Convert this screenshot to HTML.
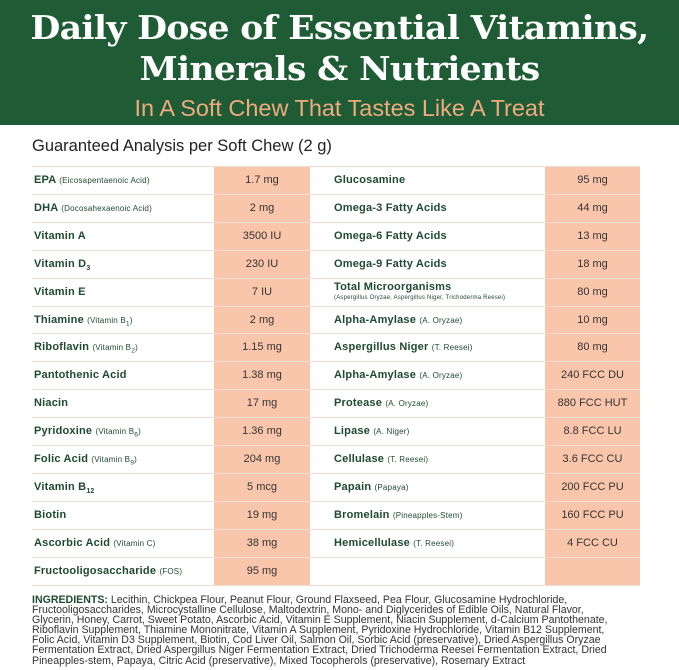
<!DOCTYPE html>
<html><head><meta charset="utf-8"><style>
*{margin:0;padding:0;box-sizing:border-box}
body{width:679px;height:670px;background:#fff;position:relative;overflow:hidden;font-family:"Liberation Sans",sans-serif}
.hdr{position:absolute;left:0;top:0;width:679px;height:125px;background:#1f5c35}
.t{position:absolute;left:0;width:679px;text-align:center;color:#fff;font-family:"DejaVu Serif","Liberation Serif",serif;font-weight:bold;font-size:33px;letter-spacing:-0.6px;white-space:nowrap;transform:scaleX(1.045)}
.sub{position:absolute;left:0;width:679px;text-align:center;top:95px;color:#eeab7e;font-size:23px;transform:scaleX(1.02);white-space:nowrap}
.ga{position:absolute;left:32px;top:137px;font-size:16.5px;color:#222}
.col{position:absolute;top:166px;height:420px;background:#f9c6ab}
.line{position:absolute;left:32px;width:608px;height:1px;background:#eeddd3}
.l{position:absolute;font-size:11px;font-weight:bold;color:#1f4a30;white-space:nowrap;letter-spacing:0.2px}
.l small{font-size:8px;font-weight:normal}
.v{position:absolute;font-size:11px;color:#333;text-align:center;white-space:nowrap}
.ing{position:absolute;left:32px;top:595px;width:650px;font-size:10.6px;line-height:10.1px;color:#333;transform-origin:left top;white-space:nowrap}
.ing b{color:#1f4a30}
</style></head><body>
<div class="hdr"></div>
<div class="t" style="top:8px">Daily Dose of Essential Vitamins,</div>
<div class="t" style="top:49px">Minerals &amp; Nutrients</div>
<div class="sub">In A Soft Chew That Tastes Like A Treat</div>
<div class="ga">Guaranteed Analysis per Soft Chew (2 g)</div>
<div class="col" style="left:214px;width:96px"></div>
<div class="col" style="left:545px;width:95px"></div>
<div id="rows"></div>
<div class="ing"><b>INGREDIENTS:</b> Lecithin, Chickpea Flour, Peanut Flour, Ground Flaxseed, Pea Flour, Glucosamine Hydrochloride,<br>Fructooligosaccharides, Microcystalline Cellulose, Maltodextrin, Mono- and Diglycerides of Edible Oils, Natural Flavor,<br>Glycerin, Honey, Carrot, Sweet Potato, Ascorbic Acid, Vitamin E Supplement, Niacin Supplement, d-Calcium Pantothenate,<br>Riboflavin Supplement, Thiamine Mononitrate, Vitamin A Supplement, Pyridoxine Hydrochloride, Vitamin B12 Supplement,<br>Folic Acid, Vitamin D3 Supplement, Biotin, Cod Liver Oil, Salmon Oil, Sorbic Acid (preservative), Dried Aspergillus Oryzae<br>Fermentation Extract, Dried Aspergillus Niger Fermentation Extract, Dried Trichoderma Reesei Fermentation Extract, Dried<br>Pineapples-stem, Papaya, Citric Acid (preservative), Mixed Tocopherols (preservative), Rosemary Extract</div>
<script>
var L=[["EPA <small>(Eicosapentaenoic Acid)</small>","1.7 mg"],["DHA <small>(Docosahexaenoic Acid)</small>","2 mg"],["Vitamin A","3500 IU"],["Vitamin D<sub style='font-size:7px'>3</sub>","230 IU"],["Vitamin E","7 IU"],["Thiamine <small>(Vitamin B<sub>1</sub>)</small>","2 mg"],["Riboflavin <small>(Vitamin B<sub>2</sub>)</small>","1.15 mg"],["Pantothenic Acid","1.38 mg"],["Niacin","17 mg"],["Pyridoxine <small>(Vitamin B<sub>6</sub>)</small>","1.36 mg"],["Folic Acid <small>(Vitamin B<sub>9</sub>)</small>","204 mg"],["Vitamin B<sub style='font-size:7px'>12</sub>","5 mcg"],["Biotin","19 mg"],["Ascorbic Acid <small>(Vitamin C)</small>","38 mg"],["Fructooligosaccharide <small>(FOS)</small>","95 mg"]];
var R=[["Glucosamine","95 mg"],["Omega-3 Fatty Acids","44 mg"],["Omega-6 Fatty Acids","13 mg"],["Omega-9 Fatty Acids","18 mg"],["TMO","80 mg"],["Alpha-Amylase <small>(A. Oryzae)</small>","10 mg"],["Aspergillus Niger <small>(T. Reesei)</small>","80 mg"],["Alpha-Amylase <small>(A. Oryzae)</small>","240 FCC DU"],["Protease <small>(A. Oryzae)</small>","880 FCC HUT"],["Lipase <small>(A. Niger)</small>","8.8 FCC LU"],["Cellulase <small>(T. Reesei)</small>","3.6 FCC CU"],["Papain <small>(Papaya)</small>","200 FCC PU"],["Bromelain <small>(Pineapples-Stem)</small>","160 FCC PU"],["Hemicellulase <small>(T. Reesei)</small>","4 FCC CU"]];
var h="",rh=27.9,t0=166;
for(var i=0;i<=15;i++){h+='<div class="line" style="top:'+Math.round(t0+i*rh)+'px"></div>';}
for(var i=0;i<15;i++){var y=Math.round(t0+i*rh+8);
h+='<div class="l" style="left:34px;top:'+y+'px">'+L[i][0]+'</div><div class="v" style="left:214px;width:96px;top:'+y+'px">'+L[i][1]+'</div>';
if(i<14){var lab=R[i][0];
if(lab=="TMO"){h+='<div class="l" style="left:334px;top:'+(y-5)+'px">Total Microorganisms</div><div class="l" style="left:334px;top:'+(y+9)+'px;font-size:6px;font-weight:normal">(Aspergillus Oryzae, Aspergillus Niger, Trichoderma Reesei)</div>';}
else h+='<div class="l" style="left:334px;top:'+y+'px">'+lab+'</div>';
h+='<div class="v" style="left:545px;width:95px;top:'+y+'px">'+R[i][1]+'</div>';}}
document.getElementById("rows").innerHTML=h;
</script>
</body></html>
